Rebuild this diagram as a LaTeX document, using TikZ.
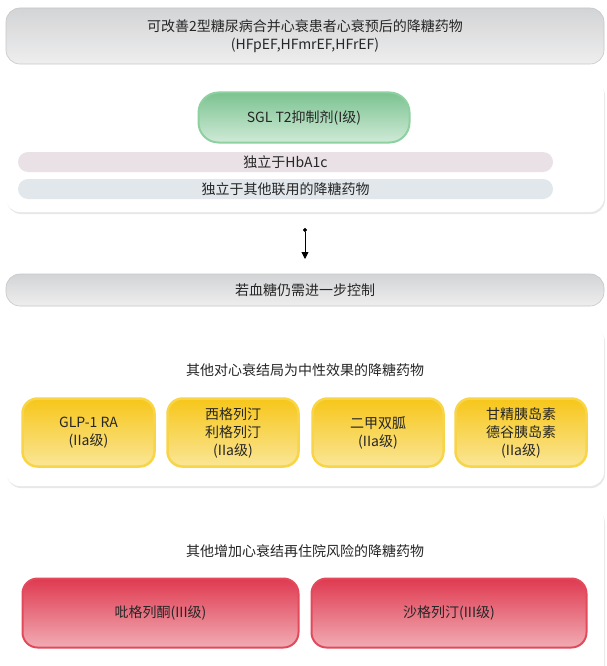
\documentclass[tikz,border=0pt]{standalone}
\usepackage{fontspec}
\setmainfont{Noto Sans CJK SC}
\usetikzlibrary{shadows,arrows.meta}
\definecolor{txt}{HTML}{262626}
\definecolor{graytop}{HTML}{D3D4D5}
\definecolor{graybot}{HTML}{EEEEEF}
\definecolor{grayline}{HTML}{C6C7C8}
\definecolor{greentop}{HTML}{7CC391}
\definecolor{greenbot}{HTML}{CFEAD7}
\definecolor{greenline}{HTML}{8FD0A0}
\definecolor{barpink}{HTML}{E9E1E5}
\definecolor{barblue}{HTML}{E1E7EB}
\definecolor{yeltop}{HTML}{F7C61A}
\definecolor{yelbot}{HTML}{FAE696}
\definecolor{yelline}{HTML}{F8D548}
\definecolor{redtop}{HTML}{DF3A50}
\definecolor{redbot}{HTML}{F1ACB4}
\definecolor{redline}{HTML}{E24A5C}
\tikzset{
  every node/.style={text=txt, font=\fontsize{14}{18}\selectfont, align=center, inner sep=0pt},
  graybox/.style={rounded corners=14pt, draw=grayline, line width=0.6pt, top color=graytop, bottom color=graybot},
  panel/.style={rounded corners=14pt, fill=white, drop shadow={opacity=0.18, shadow xshift=1pt, shadow yshift=-2pt}},
  greenbox/.style={rounded corners=20pt, draw=greenline, line width=2pt, top color=greentop, bottom color=greenbot},
  barbox/.style={rounded corners=10pt},
  yelbox/.style={rounded corners=15pt, draw=yelline, line width=2.5pt, top color=yeltop, bottom color=yelbot},
  redbox/.style={rounded corners=15pt, draw=redline, line width=2pt, top color=redtop, bottom color=redbot},
}
\begin{document}
\begin{tikzpicture}[x=1pt,y=-1pt]
\useasboundingbox (0,0) rectangle (606,666);
\fill[white] (0,0) rectangle (606,666);
% header
\node[graybox, minimum width=598pt, minimum height=56pt] (head) at (305,36) {};
\node (headtxt) at (305,36) {可改善2型糖尿病合并心衰患者心衰预后的降糖药物\\(HFpEF,HFmrEF,HFrEF)};
% panel 1
\node[panel, minimum width=598pt, minimum height=132pt] (p1) at (305,146) {};
\node[greenbox, minimum width=211pt, minimum height=50pt] (sglt) at (304,117.5) {SGL T2抑制剂(I级)};
\node[barbox, fill=barpink, minimum width=535pt, minimum height=20pt] (bar1) at (285.5,162) {独立于HbA1c};
\node[barbox, fill=barblue, minimum width=535pt, minimum height=20pt] (bar2) at (285.5,189) {独立于其他联用的降糖药物};
% arrow
\coordinate (a1) at (305,228);
\coordinate (a2) at (305,259);
\draw[line width=0.9pt, {Circle[length=4pt]}-{Triangle[length=7pt,width=7pt]}] (a1) -- (a2);
% control bar
\node[graybox, minimum width=598pt, minimum height=32pt] (ctrl) at (305,290) {若血糖仍需进一步控制};
% panel 2
\node[panel, minimum width=598pt, minimum height=160pt] (p2) at (305,406) {};
\node (t2) at (305,370) {其他对心衰结局为中性效果的降糖药物};
\node[yelbox, minimum width=132pt, minimum height=68pt] (y1) at (88.5,432.5) {GLP-1 RA\\(IIa级)};
\node[yelbox, minimum width=131pt, minimum height=68pt] (y2) at (233,432.5) {西格列汀\\利格列汀\\(IIa级)};
\node[yelbox, minimum width=131pt, minimum height=68pt] (y3) at (378,432.5) {二甲双胍\\(IIa级)};
\node[yelbox, minimum width=131pt, minimum height=68pt] (y4) at (521,432.5) {甘精胰岛素\\德谷胰岛素\\(IIa级)};
% panel 3
\node[panel, minimum width=598pt, minimum height=175pt] (p3) at (305,594.5) {};
\node (t3) at (305,551) {其他增加心衰结再住院风险的降糖药物};
\node[redbox, minimum width=276pt, minimum height=69pt] (r1) at (160.5,613) {吡格列酮(III级)};
\node[redbox, minimum width=275pt, minimum height=69pt] (r2) at (449,613) {沙格列汀(III级)};
\end{tikzpicture}
\end{document}
